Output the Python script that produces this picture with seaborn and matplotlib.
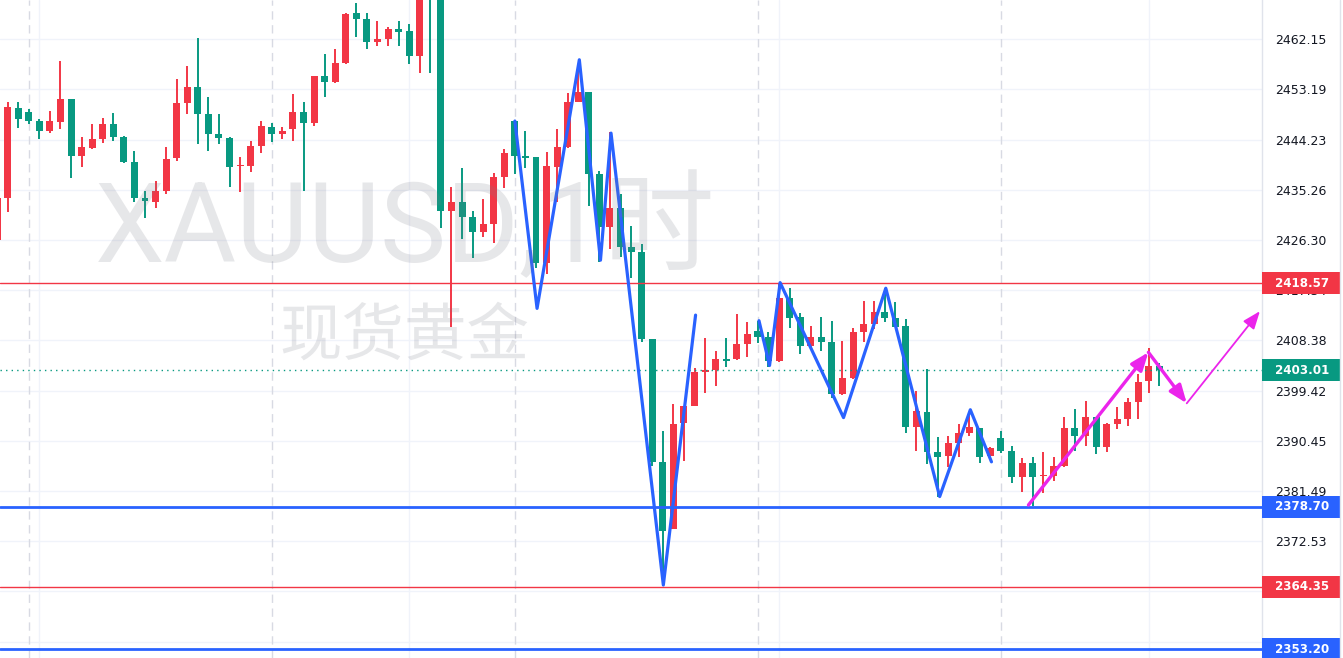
import matplotlib
matplotlib.use("Agg")
import matplotlib.pyplot as plt
from matplotlib.patches import Rectangle
import seaborn as sns

# XAUUSD 1h candles (Chinese colour convention: red = up, green = down)
opens = [2426.31, 2433.87, 2449.88, 2449.17, 2447.62, 2445.83, 2447.44, 2451.49, 2441.37, 2442.74,
         2444.40, 2447.03, 2444.71, 2440.24, 2433.81, 2433.15, 2435.12, 2441.01, 2450.83, 2453.63,
         2448.81, 2445.24, 2444.58, 2439.47, 2439.58, 2443.15, 2446.49, 2445.29, 2446.19, 2449.17,
         2447.26, 2455.60, 2454.58, 2457.97, 2466.79, 2465.78, 2461.72, 2462.26, 2463.99, 2463.63,
         2459.22, 2473.50, 2471.00, 2431.54, 2433.04, 2430.42, 2427.79, 2429.22, 2437.62, 2447.56,
         2441.31, 2441.13, 2422.26, 2439.35, 2442.92, 2450.96, 2452.74, 2438.10, 2428.69, 2432.03,
         2425.06, 2424.17, 2408.63, 2386.67, 2374.76, 2393.58, 2396.72, 2402.83, 2403.04, 2405.06,
         2405.06, 2407.79, 2410.06, 2408.99, 2404.76, 2415.96, 2412.56, 2407.44, 2408.99, 2408.10,
         2398.87, 2401.72, 2409.94, 2411.37, 2413.46, 2412.44, 2410.96, 2392.97, 2395.60, 2388.40,
         2387.79, 2390.12, 2391.90, 2392.79, 2387.79, 2391.01, 2388.63, 2383.94, 2386.49, 2384.12,
         2384.22, 2386.01, 2392.74, 2391.37, 2394.71, 2389.40, 2393.51, 2394.40, 2397.44, 2401.19,
         2403.81]
highs = [2434.35, 2451.01, 2451.01, 2449.71, 2447.92, 2449.35, 2458.28, 2451.49, 2444.71, 2447.03,
         2448.10, 2448.99, 2444.88, 2442.21, 2435.06, 2436.85, 2442.92, 2455.06, 2457.38, 2462.38,
         2451.85, 2448.81, 2444.76, 2441.13, 2443.99, 2447.56, 2447.21, 2446.49, 2452.38, 2450.96,
         2455.60, 2459.53, 2460.42, 2466.79, 2468.58, 2466.79, 2465.42, 2464.29, 2465.42, 2464.88,
         2474.00, 2475.00, 2471.50, 2435.78, 2439.17, 2431.49, 2433.69, 2438.28, 2442.56, 2447.56,
         2445.78, 2441.13, 2442.03, 2446.13, 2452.56, 2456.67, 2452.74, 2438.63, 2445.60, 2434.53,
         2428.81, 2425.60, 2408.63, 2392.26, 2397.03, 2396.67, 2403.46, 2408.81, 2406.49, 2408.81,
         2413.10, 2411.67, 2411.90, 2409.88, 2418.69, 2417.74, 2413.28, 2410.96, 2412.56, 2411.85,
         2408.28, 2410.60, 2415.42, 2415.42, 2417.74, 2415.24, 2412.21, 2399.40, 2403.28, 2391.19,
         2391.37, 2393.46, 2395.24, 2392.79, 2389.40, 2392.21, 2389.53, 2387.38, 2387.56, 2388.46,
         2387.56, 2394.71, 2396.13, 2397.56, 2394.71, 2393.63, 2396.49, 2398.10, 2402.38, 2407.03,
         2404.35]
lows = [2425.96, 2431.26, 2446.37, 2447.08, 2444.40, 2445.47, 2446.19, 2437.44, 2439.40, 2442.56,
        2443.69, 2444.04, 2440.12, 2433.15, 2430.29, 2432.08, 2434.58, 2440.47, 2448.87, 2443.51,
        2442.26, 2443.51, 2435.83, 2434.94, 2438.51, 2441.90, 2443.87, 2444.40, 2444.04, 2435.12,
        2446.67, 2451.90, 2454.40, 2457.79, 2462.62, 2460.47, 2461.01, 2461.01, 2461.01, 2457.79,
        2456.08, 2456.13, 2428.37, 2410.83, 2426.49, 2423.15, 2426.79, 2425.83, 2435.65, 2438.15,
        2439.22, 2421.31, 2420.29, 2433.15, 2442.74, 2450.96, 2432.44, 2422.38, 2424.76, 2423.33,
        2419.47, 2408.15, 2385.96, 2364.53, 2374.76, 2386.90, 2396.67, 2399.08, 2400.29, 2403.69,
        2404.83, 2405.42, 2407.97, 2403.69, 2404.58, 2410.65, 2406.01, 2407.26, 2406.54, 2398.15,
        2398.69, 2401.54, 2408.15, 2410.47, 2411.72, 2410.83, 2391.90, 2388.69, 2386.37, 2380.47,
        2385.83, 2387.62, 2391.31, 2386.54, 2387.79, 2388.22, 2382.97, 2381.37, 2378.81, 2381.13,
        2383.33, 2385.83, 2388.69, 2389.58, 2388.15, 2388.51, 2392.56, 2393.15, 2394.40, 2399.04,
        2400.29]
closes = [2433.81, 2450.12, 2447.97, 2447.62, 2445.83, 2447.56, 2451.49, 2441.37, 2442.92, 2444.35,
          2447.03, 2444.76, 2440.29, 2433.87, 2433.22, 2435.06, 2440.78, 2450.78, 2453.63, 2448.87,
          2445.29, 2444.58, 2439.40, 2439.58, 2443.15, 2446.67, 2445.29, 2445.78, 2449.17, 2447.26,
          2455.60, 2454.58, 2457.92, 2466.67, 2465.83, 2461.72, 2462.21, 2463.99, 2463.51, 2459.22,
          2473.00, 2471.00, 2431.54, 2433.04, 2430.47, 2427.79, 2429.17, 2437.56, 2441.85, 2441.37,
          2441.01, 2422.26, 2439.53, 2442.92, 2450.96, 2452.74, 2438.15, 2428.69, 2432.03, 2425.12,
          2424.22, 2408.63, 2386.72, 2374.40, 2393.46, 2396.67, 2402.74, 2402.92, 2405.06, 2404.76,
          2407.74, 2409.53, 2409.04, 2404.76, 2415.96, 2412.44, 2407.44, 2408.99, 2408.15, 2398.87,
          2401.67, 2409.88, 2411.31, 2413.46, 2412.44, 2410.83, 2392.97, 2395.78, 2388.51, 2387.62,
          2390.06, 2391.85, 2392.92, 2387.62, 2389.22, 2388.69, 2383.94, 2386.49, 2384.04, 2384.22,
          2385.96, 2392.74, 2391.37, 2394.71, 2389.40, 2393.46, 2394.35, 2397.38, 2400.96, 2403.81,
          2403.01]

# hand-drawn zigzags (bar index, price)
zigzag1_x = [49.0, 51.1, 55.1, 57.1, 58.1, 63.05, 66.1]
zigzag1_y = [2447.56, 2414.1, 2458.5, 2422.7, 2445.4, 2364.7, 2412.9]
zigzag2_x = [72.1, 73.1, 74.1, 80.1, 84.1, 89.2, 92.1, 94.1]
zigzag2_y = [2411.9, 2403.9, 2418.7, 2394.6, 2417.7, 2380.5, 2396.0, 2386.7]

# projected path arrows: (x0, y0, x1, y1, width)
arrow_paths = [(97.6, 2378.99, 108.95, 2406.26, 2.4),
               (108.95, 2406.26, 112.58, 2397.15, 2.4),
               (112.58, 2397.15, 119.5, 2413.6, 1.3)]

red_levels = [2418.57, 2364.35]
blue_levels = [2378.70, 2353.20]
last_price = 2403.01

price_ticks = [2462.15, 2453.19, 2444.23, 2435.26, 2426.30, 2417.34, 2408.38,
               2399.42, 2390.45, 2381.49, 2372.53, 2363.57, 2354.60]
session_breaks = [3, 26, 49, 72, 95]
grid_bars = [4, 39, 74, 109]

UP = "#F23645"
DOWN = "#089981"
BLUE = "#2962FF"
MAGENTA = "#EB24EB"

sns.set_theme(style="white")
plt.rcParams["font.family"] = ["DejaVu Sans"]

W, H = 1343, 658
fig = plt.figure(figsize=(W / 100, H / 100), dpi=100)
fig.patch.set_facecolor("white")
ax = fig.add_axes([0, 0, 1262 / W, 1])
ax.set_xlim(0.28, 119.7)
ax.set_ylim(2351.67, 2469.17)
ax.set_axisbelow(True)

# watermark
fig.text(405 / W, 1 - 262 / H, "XAUUSD,1时", ha="center", va="baseline",
         fontsize=80, color="#787B86", alpha=0.18,
         family=["Roboto", "Noto Sans CJK SC"])
fig.text(404 / W, 1 - 337 / H, "现货黄金", ha="center", va="center",
         fontsize=45, color="#787B86", alpha=0.18, family=["Noto Sans CJK SC"])

# grid
for t in price_ticks:
    ax.axhline(t, color="#F0F3FA", lw=1.0, zorder=0)
for b in grid_bars:
    ax.axvline(b, color="#F0F3FA", lw=1.0, zorder=0)
for b in session_breaks:
    ax.axvline(b, color="#D8DAE3", lw=1.0, linestyle=(0, (6, 4)), zorder=0.5)

# candles
xs = list(range(len(opens)))
colors = [UP if c > o else DOWN for o, c in zip(opens, closes)]
ax.vlines(xs, lows, highs, colors=colors, lw=1.4, zorder=2)
bottoms = [min(o, c) for o, c in zip(opens, closes)]
heights = [max(abs(c - o), 0.2) for o, c in zip(opens, closes)]
ax.bar(xs, heights, bottom=bottoms, width=0.66, color=colors, linewidth=0, zorder=3)

# horizontal levels
for lv in red_levels:
    ax.axhline(lv, color=UP, lw=1.0, zorder=4)
for lv in blue_levels:
    ax.axhline(lv, color=BLUE, lw=2.0, zorder=4)
ax.axhline(last_price, color=DOWN, lw=1.0, linestyle=(0, (1, 3)), zorder=4)

# zigzags
sns.lineplot(x=zigzag1_x, y=zigzag1_y, sort=False, estimator=None, color=BLUE, lw=2.3, ax=ax, zorder=5)
sns.lineplot(x=zigzag2_x, y=zigzag2_y, sort=False, estimator=None, color=BLUE, lw=2.3, ax=ax, zorder=5)

# arrows
for x0, y0, x1, y1, w in arrow_paths:
    ax.annotate("", xy=(x1, y1), xytext=(x0, y0), zorder=6, annotation_clip=False,
                arrowprops=dict(arrowstyle="-|>,head_length=0.9,head_width=0.35",
                                color=MAGENTA, lw=w, shrinkA=0, shrinkB=0,
                                mutation_scale=12))

# price scale
ax.yaxis.tick_right()
ax.set_yticks(price_ticks)
ax.set_yticklabels([f"{t:.2f}" for t in price_ticks])
ax.tick_params(axis="y", length=0, pad=9.4, labelsize=9, labelcolor="#131722")
ax.set_xticks([])
for s in ["top", "left", "bottom"]:
    ax.spines[s].set_visible(False)
ax.spines["right"].set_color("#E0E3EB")
ax.spines["right"].set_linewidth(1.0)

trans = ax.get_yaxis_transform()
half = 11 / 5.6
boxes = [(red_levels[0], UP), (last_price, DOWN), (blue_levels[0], BLUE),
         (red_levels[1], UP), (blue_levels[1], BLUE)]
for lv, col in boxes:
    ax.add_patch(Rectangle((1.0, lv - half), 78 / 1262, 2 * half, transform=trans,
                           facecolor=col, edgecolor="none", clip_on=False, zorder=10))
    ax.text(1275 / 1262, lv, f"{lv:.2f}", transform=trans, ha="left", va="center",
            color="white", fontsize=8.6, fontweight="bold", clip_on=False, zorder=11)

fig.add_artist(plt.Line2D([1340 / W, 1340 / W], [0, 1], color="#E0E3EB", lw=1.0))

fig.savefig("out.png", dpi=100)
